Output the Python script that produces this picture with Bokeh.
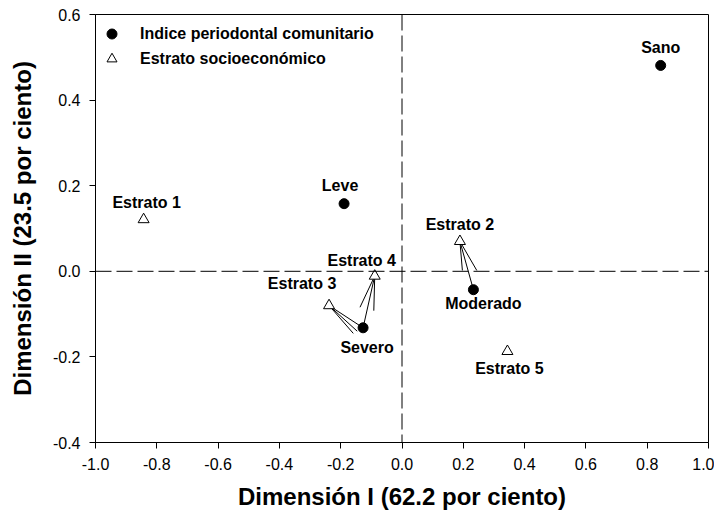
from bokeh.plotting import figure
from bokeh.models import (Span, Legend, LegendItem, ColumnDataSource, FixedTicker,
                          PrintfTickFormatter, Range1d)
from bokeh.embed import file_html
from bokeh.resources import INLINE
from bokeh.core.properties import value

# ---- data ----
indice_labels = ["Sano", "Leve", "Moderado", "Severo"]
indice_x = [0.844, -0.189, 0.233, -0.127]
indice_y = [0.481, 0.158, -0.043, -0.132]

estrato_labels = ["Estrato 1", "Estrato 2", "Estrato 3", "Estrato 4", "Estrato 5"]
estrato_x = [-0.843, 0.189, -0.238, -0.089, 0.344]
estrato_y = [0.121, 0.070, -0.080, -0.011, -0.187]

# leader lines drawn from a stratum point to an end point
leader_from = ["Estrato 3", "Estrato 3", "Estrato 3",
               "Estrato 4", "Estrato 4", "Estrato 4",
               "Estrato 2", "Estrato 2", "Estrato 2"]
leader_end_x = [-0.159, -0.146, -0.127, -0.137, -0.127, -0.092, 0.197, 0.244, 0.233]
leader_end_y = [-0.145, -0.140, -0.132, -0.084, -0.132, -0.092, 0.002, 0.002, -0.043]

x_ticks = [-1.0, -0.8, -0.6, -0.4, -0.2, 0.0, 0.2, 0.4, 0.6, 0.8, 1.0]
y_ticks = [-0.4, -0.2, 0.0, 0.2, 0.4, 0.6]

x_title = "Dimensión I (62.2 por ciento)"
y_title = "Dimensión II (23.5 por ciento)"
legend_labels = ["Indice periodontal comunitario", "Estrato socioeconómico"]

# label offsets in screen pixels (style)
indice_dx = [0, -4, 10, 4]
indice_dy = [-18, -18, 14, 20]
estrato_dx = [3, 0, -27, -13, 2]
estrato_dy = [-17, -17, -22, -16, 17]

FONT = "Liberation Sans"

p = figure(width=714, height=512, output_backend="svg", toolbar_location=None,
           x_range=Range1d(-1.0, 1.0), y_range=Range1d(-0.4, 0.6),
           min_border_left=95, min_border_right=6, min_border_top=14, min_border_bottom=70)
p.xgrid.visible = False
p.ygrid.visible = False
p.outline_line_color = "black"
p.outline_line_alpha = 1.0
p.background_fill_color = "white"
p.border_fill_color = "white"

for ax, ticks in ((p.xaxis, x_ticks), (p.yaxis, y_ticks)):
    ax.ticker = FixedTicker(ticks=ticks)
    ax.formatter = PrintfTickFormatter(format="%.1f")
    ax.minor_tick_line_color = None
    ax.major_tick_in = 0
    ax.major_tick_out = 6
    ax.major_tick_line_color = "black"
    ax.axis_line_color = "black"
    ax.major_label_text_font = FONT
    ax.major_label_text_font_size = "16px"
    ax.major_label_text_color = "black"
    ax.major_label_standoff = 9
    ax.axis_label_text_font = FONT
    ax.axis_label_text_font_size = "24px"
    ax.axis_label_text_font_style = "bold"
    ax.axis_label_text_color = "black"

p.xaxis.axis_label = x_title
p.yaxis.axis_label = y_title
p.xaxis.axis_label_standoff = 10
p.yaxis.axis_label_standoff = 14

# reference dashed lines
p.add_layout(Span(location=0, dimension="width", line_color="black",
                  line_width=1, line_dash="16 5"))
p.add_layout(Span(location=0, dimension="height", line_color="black",
                  line_width=1, line_dash="16 5"))

# leader lines
pos = dict(zip(estrato_labels, zip(estrato_x, estrato_y)))
seg = ColumnDataSource(dict(
    x0=[pos[n][0] for n in leader_from], y0=[pos[n][1] for n in leader_from],
    x1=leader_end_x, y1=leader_end_y))
p.segment("x0", "y0", "x1", "y1", source=seg, line_color="black", line_width=1)

src_i = ColumnDataSource(dict(x=indice_x, y=indice_y, t=indice_labels,
                              dx=indice_dx, dy=indice_dy))
src_e = ColumnDataSource(dict(x=estrato_x, y=estrato_y, t=estrato_labels,
                              dx=estrato_dx, dy=estrato_dy))

r_i = p.scatter("x", "y", source=src_i, marker="circle", size=10,
                fill_color="black", line_color="black")
r_e = p.scatter("x", "y", source=src_e, marker="triangle", size=11,
                fill_color="white", line_color="black", line_width=1)

for src in (src_i, src_e):
    p.text("x", "y", text="t", source=src, x_offset="dx", y_offset="dy",
           text_font=value(FONT), text_font_size="16px", text_font_style="bold",
           text_align="center", text_baseline="middle", text_color="black")

# legend: glyph boxes of 25px give markers of 10px (0.4 x box)
legend = Legend(items=[LegendItem(label=legend_labels[0], renderers=[r_i]),
                       LegendItem(label=legend_labels[1], renderers=[r_e])],
                location=(4, 371), border_line_color=None,
                background_fill_alpha=0, margin=0, padding=0,
                glyph_width=25, glyph_height=25, label_standoff=16, spacing=-1,
                label_text_font=FONT, label_text_font_size="16px",
                label_text_font_style="bold", label_text_color="black")
p.add_layout(legend)

open("out.html", "w").write(file_html(p, INLINE))
